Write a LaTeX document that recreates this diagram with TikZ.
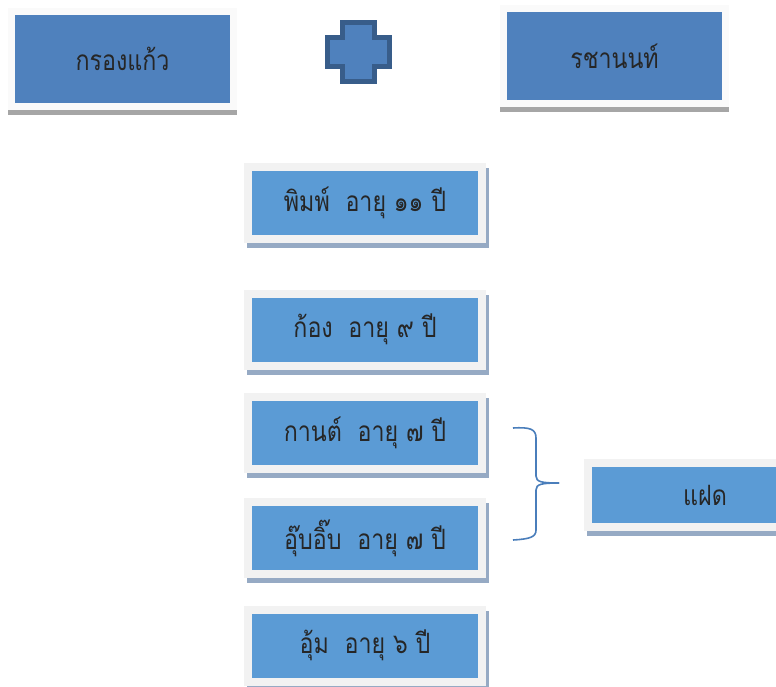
\documentclass[tikz,border=0pt]{standalone}
\usepackage{fontspec}
\usepackage{tikz}
\usetikzlibrary{calc}
\newfontfamily\thaifont[Script=Thai, FakeStretch=0.83]{Loma}
\definecolor{topblue}{RGB}{79, 129, 189}
\definecolor{plusedge}{RGB}{56, 93, 138}
\definecolor{kidblue}{RGB}{91, 155, 213}
\definecolor{kidframe}{RGB}{242, 242, 242}
\definecolor{kidshadow}{RGB}{150, 170, 196}
\definecolor{topshadow}{RGB}{166, 166, 166}
\definecolor{bracecol}{RGB}{74, 126, 187}

\begin{document}
\begin{tikzpicture}[x=1pt, y=-1pt,
    parent/.style={rectangle, fill=topblue, draw=white!98!black, line width=7pt,
        minimum width=222pt, minimum height=95pt, inner sep=0pt,
        font=\thaifont\fontsize{28}{32}\selectfont, text=black!85,
        preaction={draw=topshadow, fill=topshadow, transform canvas={shift={(0pt,-5pt)}}}},
    kid/.style={rectangle, fill=kidblue, draw=kidframe, line width=8pt,
        minimum width=234pt, minimum height=72pt, inner sep=0pt,
        font=\thaifont\fontsize{28}{32}\selectfont, text=black!85,
        preaction={draw=kidshadow, fill=kidshadow, transform canvas={shift={(3pt,-5pt)}}}}]
% Page
\clip (0,0) rectangle (776,686);
\fill[white] (0,0) rectangle (776,686);

% Parents
\node[parent] (krong) at (122.5,59) {กรองแก้ว};
\node[parent] (rachanon) at (614.5,56) {รชานนท์};

% Plus sign
\coordinate (plus) at (358.5,52);
\draw[plusedge, fill=topblue, line width=5pt]
    ($(plus)+(-16,-29.5)$) -- ++(32,0) -- ++(0,15) -- ++(15,0) -- ++(0,29) -- ++(-15,0)
    -- ++(0,15) -- ++(-32,0) -- ++(0,-15) -- ++(-15,0) -- ++(0,-29) -- ++(15,0) -- cycle;

% Children
\node[kid] (pim) at (365,203) {พิมพ์~~อายุ ๑๑ ปี};
\node[kid] (kong) at (365,329.5) {ก้อง~~อายุ ๙ ปี};
\node[kid] (kan) at (365,433) {กานต์~~อายุ ๗ ปี};
\node[kid] (ubib) at (365,538) {อุ๊บอิ๊บ~~อายุ ๗ ปี};
\node[kid] (um) at (365,645.5) {อุ้ม~~อายุ ๖ ปี};

% Twins
\node[kid, minimum height=64pt] (faet) at (705,495) {แฝด};

% Brace
\coordinate (bracetop) at (513,428);
\coordinate (bracetip) at (559,483);
\coordinate (bracebot) at (513,540);
\draw[bracecol, line width=1.6pt]
    (bracetop) .. controls (530,427) and (536,429) .. (536,438) -- (536,476)
    .. controls (536,482) and (542,483) .. (bracetip);
\draw[bracecol, line width=1.6pt]
    (bracetip) .. controls (542,483) and (536,484) .. (536,490) -- (536,530)
    .. controls (536,537) and (530,539) .. (bracebot);
\end{tikzpicture}
\end{document}
